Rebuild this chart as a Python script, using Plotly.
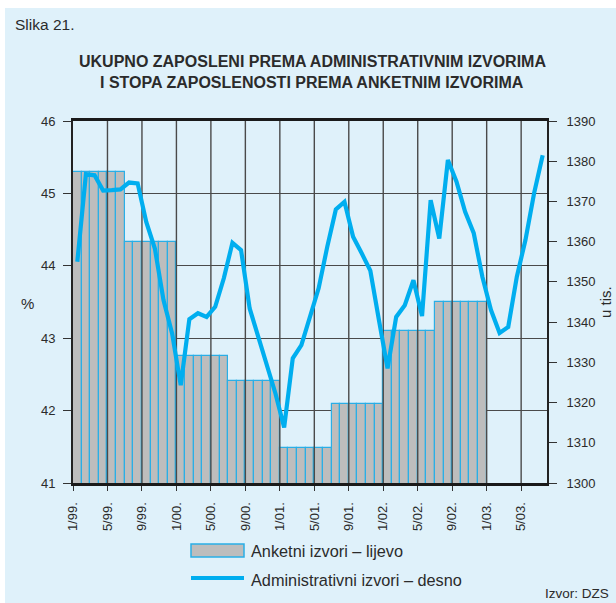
import plotly.graph_objects as go

# ---------------- data ----------------
tick_labels = ["1/99.", "5/99.", "9/99.", "1/00.", "5/00.", "9/00.", "1/01.",
               "5/01.", "9/01.", "1/02.", "5/02.", "9/02.", "1/03.", "5/03."]

# survey employment rate (%), half-yearly, shown as monthly bars
half_year_rate = [45.30, 44.33, 42.76, 42.41, 41.49, 42.09, 43.10, 43.50]

# administrative employment (thousands), monthly 1/99 - 7/03
admin_employed = [
    1355.0, 1376.8, 1376.5, 1372.7, 1372.8, 1373.0, 1374.7, 1374.5, 1364.9, 1358.3, 1345.5, 1337.2,
    1324.3, 1340.7, 1342.2, 1341.3, 1343.8, 1350.9, 1359.7, 1357.9, 1343.4, 1336.3, 1329.7, 1322.2,
    1313.8, 1331.0, 1334.3, 1341.0, 1348.4, 1358.7, 1368.0, 1369.9, 1361.2, 1357.1, 1352.8, 1340.5,
    1328.5, 1341.3, 1344.2, 1350.4, 1341.5, 1370.3, 1360.8, 1380.3, 1374.9, 1367.4, 1362.1, 1351.3,
    1343.0, 1337.3, 1338.8, 1351.3, 1360.4, 1372.0, 1381.5,
]

# ---------------- derived ----------------
bar_vals = [v for v in half_year_rate for _ in range(6)]
bar_x = list(range(len(bar_vals)))
line_x = list(range(len(admin_employed)))
tick_pos = [i * 4 - 0.5 for i in range(len(tick_labels))]

BG = "#dff1fa"
CYAN = "#00aeef"
BAR_EDGE = "#2aaee6"
GREY = "#bdbdbd"
GRID = "#4a4a4a"
TXT = "#2b2b2b"
FONT = "Liberation Sans, Arial, Helvetica, sans-serif"

W, H = 616, 603
ML, MR, MT, MB = 73, 69, 121, 120
PW, PH = W - ML - MR, H - MT - MB


def px2x(px):
    """window pixel x -> paper x"""
    return (px - ML) / PW


def py2y(py):
    """window pixel y -> paper y"""
    return (H - MB - py) / PH


fig = go.Figure()

fig.add_trace(go.Bar(
    x=bar_x, y=bar_vals, width=1.0,
    marker=dict(color=GREY, line=dict(color=BAR_EDGE, width=1.2)),
    yaxis="y", showlegend=False, hoverinfo="skip",
))

# vertical grid lines drawn over the bars
gx, gy = [], []
for t in tick_pos[1:]:
    gx += [t, t, None]
    gy += [41, 46, None]
fig.add_trace(go.Scatter(
    x=gx, y=gy, mode="lines", line=dict(color=GRID, width=1.4),
    yaxis="y", showlegend=False, hoverinfo="skip",
))

fig.add_trace(go.Scatter(
    x=line_x, y=admin_employed, mode="lines",
    line=dict(color=CYAN, width=4.2),
    yaxis="y2", showlegend=False,
))

fig.update_layout(
    width=W, height=H,
    margin=dict(l=ML, r=MR, t=MT, b=MB, pad=0),
    paper_bgcolor=BG, plot_bgcolor=BG,
    font=dict(family=FONT, color=TXT, size=13),
    bargap=0, showlegend=False,
    xaxis=dict(
        range=[-0.5, 54.5], tickmode="array", tickvals=tick_pos, ticktext=tick_labels,
        tickangle=-90, ticks="outside", ticklen=5, tickwidth=1.2, tickcolor="#333",
        showgrid=False, zeroline=False, showline=True, mirror=True,
        linecolor="#1a1a1a", linewidth=3, tickfont=dict(size=13, color=TXT),
        ticklabelstandoff=6,
    ),
    yaxis=dict(
        range=[41, 46], tickmode="linear", tick0=41, dtick=1,
        ticks="outside", ticklen=8, tickwidth=1.2, tickcolor="#333",
        showgrid=True, gridcolor=GRID, gridwidth=1.4, zeroline=False,
        showline=True, linecolor="#222", linewidth=2,
        tickfont=dict(size=13, color=TXT), ticklabelstandoff=5,
    ),
    yaxis2=dict(
        range=[1300, 1390], tickmode="linear", tick0=1300, dtick=10,
        overlaying="y", side="right",
        ticks="outside", ticklen=8, tickwidth=1.2, tickcolor="#333",
        showgrid=False, zeroline=False,
        showline=True, linecolor="#222", linewidth=2,
        tickfont=dict(size=13, color=TXT), ticklabelstandoff=7,
    ),
)

ann = [
    dict(text="Slika 21.", x=px2x(13), y=py2y(24), xanchor="left", yanchor="middle",
         font=dict(size=15.5, color=TXT)),
    dict(text="<b>UKUPNO ZAPOSLENI PREMA ADMINISTRATIVNIM IZVORIMA</b>", x=px2x(312), y=py2y(62),
         xanchor="center", yanchor="middle", font=dict(size=16, color=TXT)),
    dict(text="<b>I STOPA ZAPOSLENOSTI PREMA ANKETNIM IZVORIMA</b>", x=px2x(312), y=py2y(82.5),
         xanchor="center", yanchor="middle", font=dict(size=16, color=TXT)),
    dict(text="%", x=px2x(27), y=py2y(303), xanchor="center", yanchor="middle",
         font=dict(size=15, color=TXT)),
    dict(text="u tis.", x=px2x(605), y=py2y(302), xanchor="center", yanchor="middle",
         textangle=-90, font=dict(size=15, color=TXT)),
    dict(text="Anketni izvori – lijevo", x=px2x(249), y=py2y(551), xanchor="left", yanchor="middle",
         font=dict(size=16.3, color=TXT)),
    dict(text="Administrativni izvori – desno", x=px2x(249), y=py2y(580), xanchor="left",
         yanchor="middle", font=dict(size=16.3, color=TXT)),
    dict(text="Izvor: DZS", x=px2x(611), y=py2y(603), xanchor="right", yanchor="bottom",
         font=dict(size=13.5, color=TXT)),
]
for a in ann:
    a.update(xref="paper", yref="paper", showarrow=False)
fig.update_layout(annotations=ann)

shapes = [
    # legend swatches
    dict(type="rect", x0=px2x(191), x1=px2x(244), y0=py2y(557), y1=py2y(544),
         fillcolor=GREY, line=dict(color=BAR_EDGE, width=1.5)),
    dict(type="line", x0=px2x(191), x1=px2x(244), y0=py2y(578), y1=py2y(578),
         line=dict(color=CYAN, width=4)),
    # white page strips at the left and top edges
    dict(type="rect", x0=px2x(0), x1=px2x(5), y0=py2y(H), y1=py2y(0),
         fillcolor="white", line=dict(width=0)),
    dict(type="rect", x0=px2x(0), x1=px2x(W), y0=py2y(8), y1=py2y(0),
         fillcolor="white", line=dict(width=0)),
]
for s in shapes:
    s.update(xref="paper", yref="paper")
fig.update_layout(shapes=shapes)

fig.write_html(
    "out.html",
    config={"displayModeBar": False},
    post_script="document.body.style.margin='0';document.body.style.overflow='hidden';",
)
